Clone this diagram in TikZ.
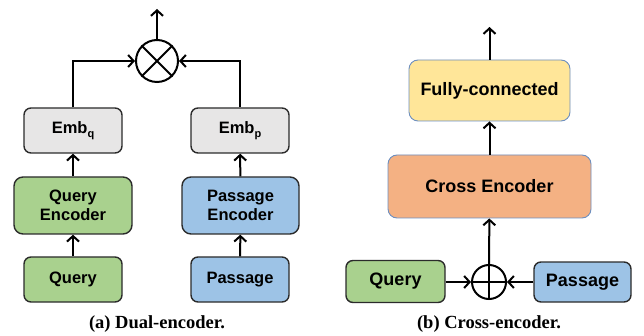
\documentclass[tikz,border=0pt]{standalone}
\usepackage{fontspec}
\setsansfont{Liberation Sans}
\setmainfont{Liberation Serif}
\usetikzlibrary{arrows.meta}
\definecolor{cgreen}{HTML}{A9D18E}
\definecolor{cblue}{HTML}{9DC3E6}
\definecolor{cgray}{HTML}{E7E6E6}
\definecolor{cyellow}{HTML}{FFE699}
\definecolor{corange}{HTML}{F4B183}
\definecolor{cborder}{HTML}{2B2B2B}
\definecolor{cblueline}{HTML}{6C8EBF}
\tikzset{
  box/.style={draw=cborder, line width=1.4pt, rounded corners=7pt, align=center,
    font=\sffamily\bfseries\fontsize{16.5}{19}\selectfont, inner sep=0pt},
  rbox/.style={draw=cblueline, line width=0.9pt, rounded corners=9pt, align=center,
    font=\sffamily\bfseries\fontsize{18}{20}\selectfont, inner sep=0pt},
  arr/.style={line width=2pt, -{Straight Barb[length=5.5pt,width=12pt,line width=2pt]}},
  opcirc/.style={circle, draw=black, line width=2pt, inner sep=0pt},
  caption/.style={font=\rmfamily\bfseries\fontsize{18.5}{20}\selectfont},
}
\begin{document}
\begin{tikzpicture}[x=1pt,y=-1pt]
\useasboundingbox (0,0) rectangle (644,336);
% ---------- (a) Dual encoder ----------
\node[opcirc, minimum size=42pt] (xc) at (157,61) {};
\draw[line width=2pt] (xc.north west) -- (xc.south east) (xc.north east) -- (xc.south west);
\coordinate (xout) at (157,9);
\node[box, fill=cgray, minimum width=98pt, minimum height=45pt] (embq) at (73,130.5) {Emb\raisebox{-4pt}{\fontsize{11}{11}\selectfont q}};
\node[box, fill=cgray, minimum width=98pt, minimum height=45pt] (embp) at (240,130.5) {Emb\raisebox{-4pt}{\fontsize{11}{11}\selectfont p}};
\node[box, fill=cgreen, minimum width=118pt, minimum height=57pt, rounded corners=9pt] (qenc) at (73,205.5) {Query\\Encoder};
\node[box, fill=cblue, minimum width=117pt, minimum height=57pt, rounded corners=9pt] (penc) at (240.5,205.5) {Passage\\Encoder};
\node[box, fill=cgreen, minimum width=98pt, minimum height=45pt] (qa) at (73,279.5) {Query};
\node[box, fill=cblue, minimum width=98pt, minimum height=45pt] (pa) at (240,279.5) {Passage};
\draw[arr] (qa) -- (qenc);
\draw[arr] (pa) -- (penc);
\draw[arr] (qenc) -- (embq);
\draw[arr] (penc) -- (embp);
\draw[arr] (embq) |- (xc);
\draw[arr] (embp) |- (xc);
\draw[arr] (xc) -- (xout);
\node[caption] (capa) at (157,324) {(a) Dual-encoder.};
% ---------- (b) Cross encoder ----------
\node[rbox, fill=cyellow, minimum width=161pt, minimum height=61pt] (fc) at (489.5,90.5) {Fully-connected};
\node[rbox, fill=corange, minimum width=203pt, minimum height=63pt] (ce) at (489.5,186.5) {Cross Encoder};
\node[opcirc, minimum size=34pt] (pc) at (489,282) {};
\draw[line width=2pt] (pc.west) -- (pc.east) (pc.north) -- (pc.south);
\node[box, fill=cgreen, minimum width=99pt, minimum height=42pt, font=\sffamily\bfseries\fontsize{18}{20}\selectfont] (qb) at (395.5,281.5) {Query};
\node[box, fill=cblue, minimum width=97pt, minimum height=40pt, font=\sffamily\bfseries\fontsize{18}{20}\selectfont] (pb) at (582.5,282) {Passage};
\coordinate (fout) at (489.5,27);
\draw[arr] (qb.east |- pc) -- (pc);
\draw[arr] (pb.west |- pc) -- (pc);
\draw[arr] (pc) -- (ce);
\draw[arr] (ce) -- (fc);
\draw[arr] (fc) -- (fout);
\node[caption] (capb) at (489,324) {(b) Cross-encoder.};
\end{tikzpicture}
\end{document}
